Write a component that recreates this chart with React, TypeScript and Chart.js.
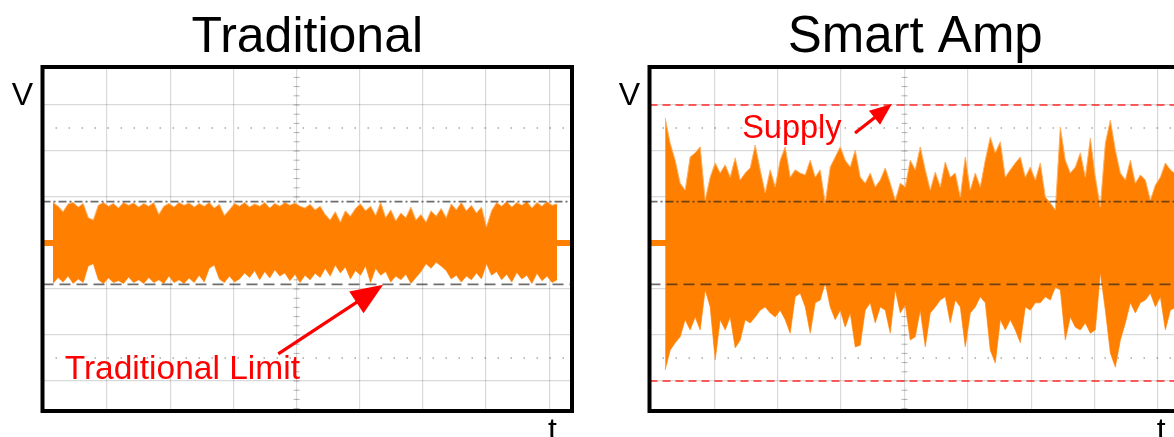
import React, { useEffect, useRef } from "react";
import { Chart, registerables } from "chart.js";

Chart.register(...registerables);

const FONT = '"Liberation Sans", Arial, Helvetica, sans-serif';
const ORANGE = "#ff8000";
const SPIKE = "rgba(255,176,100,1)";

// axis ranges in scope divisions
const X_MIN = -0.022;
const X_MAX = 8.36;
const Y_MIN = -3.652;
const Y_MAX = 3.826;
const DOTTED_LEVELS = [2.5, -2.5];
const IDLE_LEVEL = 0;

// ---------- Traditional panel ----------
const tradStart = 0.144;
const tradStep = 0.0798;
const tradUpper = [
  0.88, 0.8, 0.68, 0.85, 0.88, 0.78, 0.86, 0.55, 0.5, 0.82,
  0.88, 0.8, 0.86, 0.76, 0.88, 0.82, 0.87, 0.78, 0.86, 0.8,
  0.88, 0.62, 0.8, 0.86, 0.78, 0.88, 0.82, 0.87, 0.78, 0.86,
  0.8, 0.88, 0.76, 0.84, 0.6, 0.72, 0.86, 0.8, 0.88, 0.78,
  0.85, 0.8, 0.88, 0.76, 0.86, 0.8, 0.88, 0.82, 0.87, 0.8,
  0.76, 0.84, 0.72, 0.8, 0.62, 0.5, 0.68, 0.45, 0.7, 0.58,
  0.75, 0.85, 0.7, 0.8, 0.6, 0.88, 0.55, 0.72, 0.48, 0.65,
  0.55, 0.78, 0.5, 0.62, 0.45, 0.7, 0.58, 0.75, 0.55, 0.85,
  0.72, 0.88, 0.7, 0.82, 0.65, 0.78, 0.35, 0.7, 0.88, 0.8,
  0.9, 0.78, 0.88, 0.82, 0.9, 0.76, 0.88, 0.8, 0.9, 0.82,
  0.85,
];
const tradLower = [
  -0.88, -0.75, -0.85, -0.72, -0.88, -0.78, -0.86, -0.5, -0.45, -0.8,
  -0.88, -0.76, -0.86, -0.82, -0.88, -0.74, -0.86, -0.8, -0.88, -0.75,
  -0.86, -0.8, -0.88, -0.72, -0.86, -0.8, -0.88, -0.76, -0.86, -0.7,
  -0.85, -0.55, -0.48, -0.78, -0.86, -0.72, -0.85, -0.78, -0.65, -0.75,
  -0.6, -0.8, -0.62, -0.76, -0.58, -0.72, -0.65, -0.82, -0.68, -0.86,
  -0.7, -0.8, -0.66, -0.75, -0.55, -0.72, -0.48, -0.65, -0.52, -0.78,
  -0.6, -0.7, -0.5, -0.86, -0.55, -0.7, -0.62, -0.85, -0.72, -0.8,
  -0.68, -0.88, -0.75, -0.62, -0.45, -0.55, -0.42, -0.5, -0.6, -0.78,
  -0.7, -0.85, -0.72, -0.8, -0.65, -0.78, -0.45, -0.7, -0.62, -0.8,
  -0.68, -0.85, -0.64, -0.78, -0.7, -0.88, -0.66, -0.82, -0.72, -0.86,
  -0.8,
];
const tradLimit = 0.9;

// ---------- Smart Amp panel ----------
const smartStart = 0.225;
const smartStep = 0.0789;
const smartUpper = [
  2.72, 2.17, 1.8, 1.3, 1.15, 1.87, 1.96, 2.09, 0.93, 1.43,
  1.74, 1.52, 1.7, 1.43, 1.85, 1.37, 1.52, 1.63, 2.13, 1.59,
  1.09, 1.59, 1.22, 1.8, 2.09, 1.43, 1.59, 1.52, 1.48, 1.8,
  1.43, 1.59, 0.87, 1.65, 1.87, 2.09, 1.8, 1.65, 2.02, 1.43,
  1.3, 1.52, 1.22, 1.37, 1.63, 1.3, 0.93, 1.3, 1.22, 1.8,
  1.59, 2.09, 1.59, 1.15, 1.54, 1.22, 1.76, 1.43, 1.52, 1.0,
  1.87, 1.15, 1.52, 1.22, 1.8, 2.3, 1.96, 2.2, 1.43, 1.59,
  1.74, 1.87, 1.43, 1.65, 1.37, 1.74, 1.0, 0.87, 0.72, 2.52,
  1.8, 1.52, 1.65, 1.96, 1.43, 2.28, 1.43, 0.78, 2.17, 2.67,
  2.02, 1.52, 1.37, 1.8, 1.3, 1.48, 1.37, 0.93, 1.26, 1.43,
  1.74, 1.59, 1.5,
];
const smartLower = [
  -2.76, -2.33, -2.17, -2.04, -1.67, -1.89, -1.61, -1.89, -1.02, -1.39,
  -2.54, -1.67, -1.89, -1.61, -2.28, -2.11, -1.67, -1.74, -1.61, -1.46,
  -1.39, -1.52, -1.61, -1.46, -1.67, -1.96, -1.17, -1.09, -1.39, -1.96,
  -1.3, -1.24, -0.87, -1.39, -1.67, -1.46, -1.83, -1.52, -2.26, -2.22,
  -1.46, -1.3, -1.74, -1.39, -1.46, -1.96, -1.02, -1.52, -1.35, -2.11,
  -2.04, -1.46, -2.26, -1.52, -1.39, -1.24, -1.17, -1.74, -1.24, -1.39,
  -2.26, -1.52, -1.39, -1.17, -1.3, -2.33, -2.61, -1.67, -1.89, -1.67,
  -1.89, -2.17, -1.39, -1.46, -1.3, -1.3, -1.17, -1.24, -0.96, -1.02,
  -2.11, -1.61, -1.83, -1.89, -1.74, -1.96, -1.89, -0.65, -1.46, -2.39,
  -2.7, -2.11, -1.74, -1.3, -1.52, -1.3, -1.24, -1.09, -1.39, -1.17,
  -1.89, -1.46, -1.4,
];
const smartLimit = 0.9;
const supplyLevel = 3.0;

type Note = {
  text: string;
  textAt: [number, number];
  from: [number, number];
  to: [number, number];
  headLen: number;
  headHalf: number;
};

const tradNote: Note = {
  text: "Traditional Limit",
  textAt: [0.33, -2.96],
  from: [3.71, -2.41],
  to: [5.37, -0.91],
  headLen: 32,
  headHalf: 13,
};
const smartNote: Note = {
  text: "Supply",
  textAt: [1.44, 2.28],
  from: [3.22, 2.39],
  to: [3.8, 3.02],
  headLen: 22,
  headHalf: 9,
};

const series = (start: number, step: number, vals: number[]) =>
  vals.map((v, i) => ({ x: start + i * step, y: v }));

const hline = (level: number) => [
  { x: X_MIN, y: level },
  { x: X_MAX, y: level },
];

const decorPlugin = {
  id: "decor",
  beforeDatasetsDraw(chart: any) {
    const { ctx, chartArea: a, scales } = chart;
    const xs = scales.x;
    const ys = scales.y;
    ctx.save();
    ctx.strokeStyle = "rgba(0,0,0,0.3)";
    ctx.lineWidth = 1;
    const cx = xs.getPixelForValue(4);
    const cy = ys.getPixelForValue(0);
    for (let v = -3.6; v <= 3.8; v += 0.2) {
      const y = ys.getPixelForValue(v);
      if (y < a.top || y > a.bottom) continue;
      ctx.beginPath();
      ctx.moveTo(cx - 3, y);
      ctx.lineTo(cx + 3, y);
      ctx.stroke();
    }
    for (let t = 0; t <= 8.4; t += 0.2) {
      const x = xs.getPixelForValue(t);
      if (x < a.left || x > a.right) continue;
      ctx.beginPath();
      ctx.moveTo(x, cy - 3);
      ctx.lineTo(x, cy + 3);
      ctx.stroke();
    }
    ctx.restore();
  },
  afterDraw(chart: any, _args: any, opts: any) {
    const { ctx, chartArea: a, scales } = chart;
    const xs = scales.x;
    const ys = scales.y;
    ctx.save();
    ctx.strokeStyle = "#000";
    ctx.lineWidth = 4;
    ctx.strokeRect(a.left, a.top, a.right - a.left, a.bottom - a.top);

    ctx.fillStyle = "#000";
    ctx.textBaseline = "alphabetic";
    ctx.textAlign = "center";
    ctx.font = `${opts.titleSize}px ${FONT}`;
    ctx.fillText(opts.title, (a.left + a.right) / 2, 52);
    ctx.font = `32px ${FONT}`;
    ctx.fillText("V", a.left - 20, 105);
    ctx.fillText("t", xs.getPixelForValue(8.05), 440);

    const note: Note = opts.note;
    ctx.fillStyle = "#ff0000";
    ctx.strokeStyle = "#ff0000";
    ctx.textAlign = "left";
    ctx.font = `${opts.noteSize}px ${FONT}`;
    ctx.fillText(note.text, xs.getPixelForValue(note.textAt[0]), ys.getPixelForValue(note.textAt[1]));
    const x1 = xs.getPixelForValue(note.from[0]);
    const y1 = ys.getPixelForValue(note.from[1]);
    const x2 = xs.getPixelForValue(note.to[0]);
    const y2 = ys.getPixelForValue(note.to[1]);
    const len = Math.hypot(x2 - x1, y2 - y1);
    const ux = (x2 - x1) / len;
    const uy = (y2 - y1) / len;
    const bx = x2 - ux * note.headLen;
    const by = y2 - uy * note.headLen;
    ctx.lineWidth = 3.2;
    ctx.beginPath();
    ctx.moveTo(x1, y1);
    ctx.lineTo(bx + ux * 2, by + uy * 2);
    ctx.stroke();
    ctx.beginPath();
    ctx.moveTo(x2, y2);
    ctx.lineTo(bx - uy * note.headHalf, by + ux * note.headHalf);
    ctx.lineTo(bx + uy * note.headHalf, by - ux * note.headHalf);
    ctx.closePath();
    ctx.fill();
    ctx.restore();
  },
};

function buildChart(
  canvas: HTMLCanvasElement,
  title: string,
  titleSize: number,
  noteSize: number,
  start: number,
  step: number,
  upper: number[],
  lower: number[],
  limit: number,
  supply: number | null,
  note: Note,
  padRight: number
) {
  const datasets: any[] = [
    {
      data: hline(IDLE_LEVEL),
      borderColor: ORANGE,
      borderWidth: 6,
      order: 6,
    },
    ...DOTTED_LEVELS.map((lv) => ({
      data: hline(lv),
      borderColor: "rgba(0,0,0,0.35)",
      borderWidth: 1.5,
      borderDash: [1.5, 11.5],
      order: 7,
    })),
    {
      data: series(start, step, upper),
      borderColor: SPIKE,
      borderWidth: 1,
      backgroundColor: ORANGE,
      fill: "+1",
      order: 3,
    },
    {
      data: series(start, step, lower),
      borderColor: SPIKE,
      borderWidth: 1,
      fill: false,
      order: 3,
    },
    {
      data: hline(limit),
      borderColor: "rgba(30,30,30,0.65)",
      borderWidth: 1.8,
      borderDash: [8, 3, 2, 3],
      order: 1,
    },
    {
      data: hline(-limit),
      borderColor: "rgba(30,30,30,0.65)",
      borderWidth: 1.8,
      borderDash: [11, 6],
      order: 1,
    },
  ];
  if (supply !== null) {
    [supply, -supply].forEach((lv) =>
      datasets.push({
        data: hline(lv),
        borderColor: "rgba(255,30,30,0.7)",
        borderWidth: 2,
        borderDash: [8, 5],
        order: 1,
      })
    );
  }
  const gridCfg = {
    color: "rgba(0,0,0,0.15)",
    lineWidth: 1.2,
    drawTicks: false,
  };
  return new Chart(canvas, {
    type: "line",
    data: { datasets },
    plugins: [decorPlugin],
    options: {
      responsive: false,
      maintainAspectRatio: false,
      animation: false,
      events: [],
      layout: {
        autoPadding: false,
        padding: { left: 42.5, top: 67, right: padRight, bottom: 26 },
      },
      elements: { point: { radius: 0 }, line: { tension: 0 } },
      plugins: {
        legend: { display: false },
        tooltip: { enabled: false },
        title: { display: false },
        decor: { title, note, titleSize, noteSize },
      } as any,
      scales: {
        x: {
          type: "linear",
          min: X_MIN,
          max: X_MAX,
          afterFit: (s: any) => {
            s.height = 0;
          },
          ticks: { display: false, stepSize: 1, includeBounds: false },
          grid: gridCfg,
          border: { display: false },
        },
        y: {
          type: "linear",
          min: Y_MIN,
          max: Y_MAX,
          afterFit: (s: any) => {
            s.width = 0;
          },
          ticks: { display: false, stepSize: 1, includeBounds: false },
          grid: gridCfg,
          border: { display: false },
        },
      },
    } as any,
  });
}

export default function App() {
  const leftRef = useRef<HTMLCanvasElement>(null);
  const rightRef = useRef<HTMLCanvasElement>(null);

  useEffect(() => {
    document.body.style.margin = "0";
    const c1 = buildChart(
      leftRef.current!,
      "Traditional",
      50,
      33.5,
      tradStart,
      tradStep,
      tradUpper,
      tradLower,
      tradLimit,
      null,
      tradNote,
      28
    );
    const c2 = buildChart(
      rightRef.current!,
      "Smart Amp",
      51,
      32.5,
      smartStart,
      smartStep,
      smartUpper,
      smartLower,
      smartLimit,
      supplyLevel,
      smartNote,
      26.1
    );
    return () => {
      c1.destroy();
      c2.destroy();
    };
  }, []);

  return (
    <div style={{ position: "relative", width: 1174, height: 437, overflow: "hidden", background: "#fff" }}>
      <div style={{ position: "absolute", left: 0, top: 0, width: 600, height: 437 }}>
        <canvas ref={leftRef} width={600} height={437} style={{ width: 600, height: 437, display: "block" }} />
      </div>
      <div style={{ position: "absolute", left: 607, top: 0, width: 567, height: 437, overflow: "hidden" }}>
        <canvas ref={rightRef} width={600} height={437} style={{ width: 600, height: 437, display: "block" }} />
      </div>
    </div>
  );
}
